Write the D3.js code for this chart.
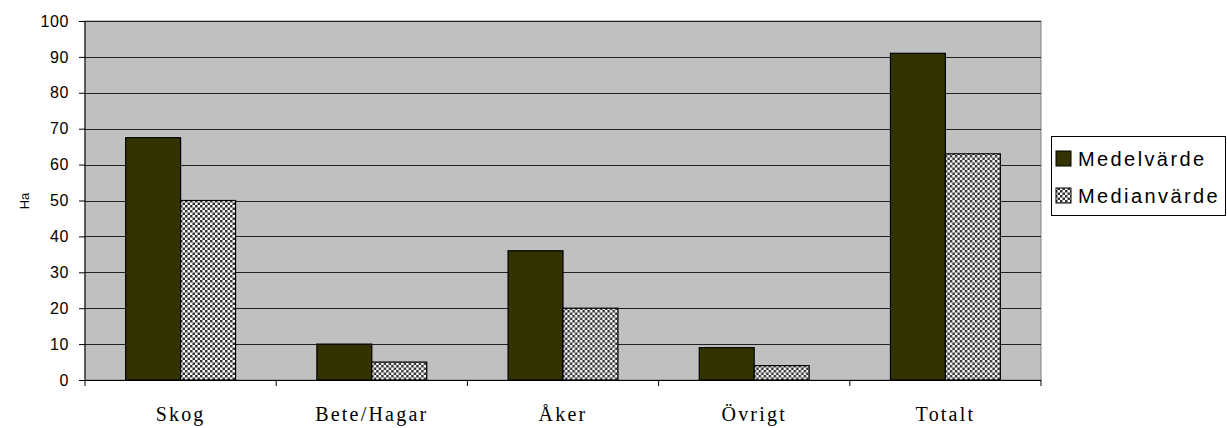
<!DOCTYPE html>
<html>
<head>
<meta charset="utf-8">
<script src="https://cdn.jsdelivr.net/npm/d3@7"></script>
<style>
  body { margin: 0; background: #fff; }
  svg { display: block; }
</style>
</head>
<body>
<svg id="chart" width="1227" height="428"></svg>
<script>
// Land area per holding (hectares): mean and median by land type
const categories = ["Skog", "Bete/Hagar", "Åker", "Övrigt", "Totalt"];
const seriesNames = ["Medelvärde", "Medianvärde"];
const meanValues = [67.5, 10, 36, 9, 91];
const medianValues = [50, 5, 20, 4, 63];
const yTicks = [0, 10, 20, 30, 40, 50, 60, 70, 80, 90, 100];

const svg = d3.select("#chart");
const plot = { left: 85, right: 1041, top: 21, bottom: 380 };

const defs = svg.append("defs");
const pat = defs.append("pattern")
  .attr("id", "checker")
  .attr("width", 5).attr("height", 5)
  .attr("patternUnits", "userSpaceOnUse");
pat.append("rect").attr("width", 5).attr("height", 5).attr("fill", "#ffffff");
pat.append("rect").attr("width", 2.5).attr("height", 2.5).attr("fill", "#333333");
pat.append("rect").attr("x", 2.5).attr("y", 2.5).attr("width", 2.5).attr("height", 2.5).attr("fill", "#333333");

const x = d3.scaleBand().domain(categories).range([plot.left, plot.right]);
const xInner = d3.scaleBand().domain(seriesNames)
  .range([0, x.bandwidth()]).paddingOuter(0.74).paddingInner(0);
const y = d3.scaleLinear().domain([0, 100]).range([plot.bottom, plot.top]);

// plot background
svg.append("rect")
  .attr("x", plot.left).attr("y", plot.top)
  .attr("width", plot.right - plot.left).attr("height", plot.bottom - plot.top)
  .attr("fill", "#c0c0c0")
  .attr("stroke", "#808080").attr("stroke-width", 1);

// horizontal gridlines
svg.append("g").selectAll("line")
  .data(yTicks.filter(d => d > 0))
  .join("line")
  .attr("x1", plot.left).attr("x2", plot.right)
  .attr("y1", d => Math.round(y(d)) + 0.5).attr("y2", d => Math.round(y(d)) + 0.5)
  .attr("stroke", "#222").attr("stroke-width", 1.2);

// bars
const fills = { "Medelvärde": "#333300", "Medianvärde": "url(#checker)" };
const rows = categories.map((c, i) => ({ c, vals: [meanValues[i], medianValues[i]] }));
svg.append("g").selectAll("g")
  .data(rows)
  .join("g")
  .attr("transform", d => `translate(${x(d.c)},0)`)
  .selectAll("rect")
  .data(d => d.vals.map((v, j) => ({ s: seriesNames[j], v })))
  .join("rect")
  .attr("x", d => xInner(d.s))
  .attr("y", d => y(d.v))
  .attr("width", xInner.bandwidth())
  .attr("height", d => y(0) - y(d.v))
  .attr("fill", d => fills[d.s])
  .attr("stroke", "#000").attr("stroke-width", 1.2);

// y axis
const yAxis = d3.axisLeft(y).tickValues(yTicks).tickSize(6).tickPadding(10);
const gy = svg.append("g").attr("transform", `translate(${plot.left},0)`).call(yAxis);
gy.selectAll("text").attr("font-family", "Liberation Sans, Arial, sans-serif")
  .attr("font-size", 16).attr("letter-spacing", 0.6).attr("fill", "#000");
gy.selectAll("line,path").attr("stroke", "#000");
gy.select(".domain").attr("d", `M0,${plot.top}V${plot.bottom}`);

// x axis
const gx = svg.append("g").attr("transform", `translate(0,${plot.bottom})`);
gx.append("line").attr("x1", plot.left).attr("x2", plot.right)
  .attr("y1", 0.5).attr("y2", 0.5).attr("stroke", "#000");
gx.selectAll(".tick")
  .data(categories.map(c => x(c)).concat([plot.right]))
  .join("line")
  .attr("x1", d => d).attr("x2", d => d)
  .attr("y1", 0).attr("y2", 6).attr("stroke", "#000");
gx.selectAll("text")
  .data(categories)
  .join("text")
  .attr("x", d => x(d) + x.bandwidth() / 2)
  .attr("y", 41)
  .attr("text-anchor", "middle")
  .attr("font-family", "Liberation Serif, Times New Roman, serif")
  .attr("font-size", 20)
  .attr("letter-spacing", 2.2)
  .text(d => d);

// y axis title
svg.append("text")
  .attr("transform", "translate(29,201) rotate(-90)")
  .attr("text-anchor", "middle")
  .attr("font-family", "Liberation Sans, Arial, sans-serif")
  .attr("font-size", 13)
  .text("Ha");

// legend
const lg = svg.append("g");
lg.append("rect").attr("x", 1051.5).attr("y", 136.5).attr("width", 174).attr("height", 79)
  .attr("fill", "#fff").attr("stroke", "#000").attr("stroke-width", 1);
seriesNames.forEach((s, i) => {
  const yy = 151 + i * 37;
  lg.append("rect").attr("x", 1056).attr("y", yy).attr("width", 15).attr("height", 15)
    .attr("fill", fills[s]).attr("stroke", "#000").attr("stroke-width", 1);
  lg.append("text").attr("x", 1078).attr("y", yy + 15)
    .attr("font-family", "Liberation Sans, Arial, sans-serif")
    .attr("font-size", 20).attr("letter-spacing", 2.4)
    .text(s);
});
</script>
</body>
</html>
